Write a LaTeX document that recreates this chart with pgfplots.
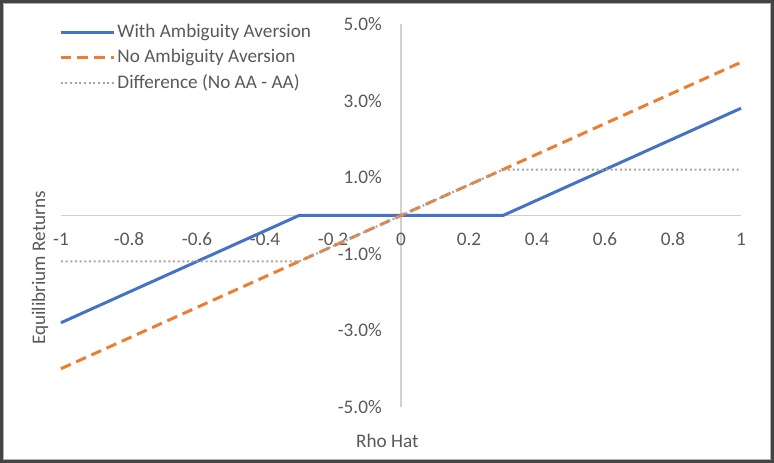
\documentclass[border=0pt]{standalone}
\usepackage{fontspec}
\setmainfont{Carlito}
\usepackage{pgfplots}
\pgfplotsset{compat=1.18}
\definecolor{aablue}{HTML}{4472C4}
\definecolor{naorange}{HTML}{ED7D31}
\definecolor{diffgray}{HTML}{A5A5A5}
\definecolor{labelgray}{HTML}{595959}
\definecolor{axisgray}{HTML}{D0D0D0}
\definecolor{framedark}{HTML}{444444}
\definecolor{framelight}{HTML}{B0B0B0}
\begin{document}
{\fontsize{14.4bp}{17bp}\selectfont
\begin{tikzpicture}
\useasboundingbox (-45.75bp,-42bp) rectangle (534.75bp,305.25bp);
\begin{axis}[
  at={(0,0)}, anchor=south west,
  scale only axis, width=510bp, height=287.25bp,
  xmin=-1, xmax=1, ymin=-5, ymax=5,
  clip=false,
  axis lines=middle,
  axis line style={draw=axisgray, line width=1.2bp, -},
  xtick={-1,-0.8,-0.6,-0.4,-0.2,0,0.2,0.4,0.6,0.8,1},
  xticklabels={-1,-0.8,-0.6,-0.4,-0.2,0,0.2,0.4,0.6,0.8,1},
  ytick={-5,-3,-1,1,3,5},
  yticklabels={-5.0\%,-3.0\%,-1.0\%,1.0\%,3.0\%,5.0\%},
  major tick length=0pt,
  hide obscured x ticks=false, hide obscured y ticks=false,
  tick label style={text=labelgray},
  xticklabel style={anchor=center, yshift=-18bp},
  yticklabel style={anchor=east, inner sep=0pt, xshift=-14.25bp},
  xlabel={Rho Hat},
  xlabel style={at={(axis description cs:0.48,-0.0888)}, anchor=center, text=labelgray},
  ylabel={Equilibrium Returns},
  ylabel style={at={(axis description cs:-0.0309,0.363)}, anchor=center, rotate=90, text=labelgray},
  legend image code/.code={\draw[#1] (0bp,0bp) -- (40bp,0bp);},
  legend style={at={(axis description cs:-0.009,1.012)}, anchor=north west,
    draw=none, fill=none, text=labelgray, row sep=3.75bp,
    nodes={inner sep=1.5bp}},
  legend cell align=left,
]
\addplot[aablue, line width=2.25bp, line join=round] coordinates {
  (-1,-2.8) (-0.9,-2.4) (-0.8,-2.0) (-0.7,-1.6) (-0.6,-1.2) (-0.5,-0.8) (-0.4,-0.4) (-0.3,0)
  (0,0) (0.3,0) (0.4,0.4) (0.5,0.8) (0.6,1.2) (0.7,1.6) (0.8,2.0) (0.9,2.4) (1,2.8)};
\addlegendentry{With Ambiguity Aversion}
\addplot[naorange, line width=2.25bp, dash pattern=on 8bp off 4.5bp] coordinates {
  (-1,-4) (-0.5,-2) (0,0) (0.5,2) (1,4)};
\addlegendentry{No Ambiguity Aversion}
\addplot[diffgray, line width=1.5bp, dash pattern=on 1.5bp off 2bp] coordinates {
  (-1,-1.2) (-0.3,-1.2) (0,0) (0.3,1.2) (1,1.2)};
\addlegendentry{Difference (No AA - AA)}
\end{axis}
\draw[framedark, line width=2bp] (-44.75bp,-41bp) rectangle (533.75bp,304.25bp);
\draw[framelight, line width=0.75bp] (-43.1bp,-39.4bp) rectangle (532.1bp,302.6bp);
\end{tikzpicture}}
\end{document}
